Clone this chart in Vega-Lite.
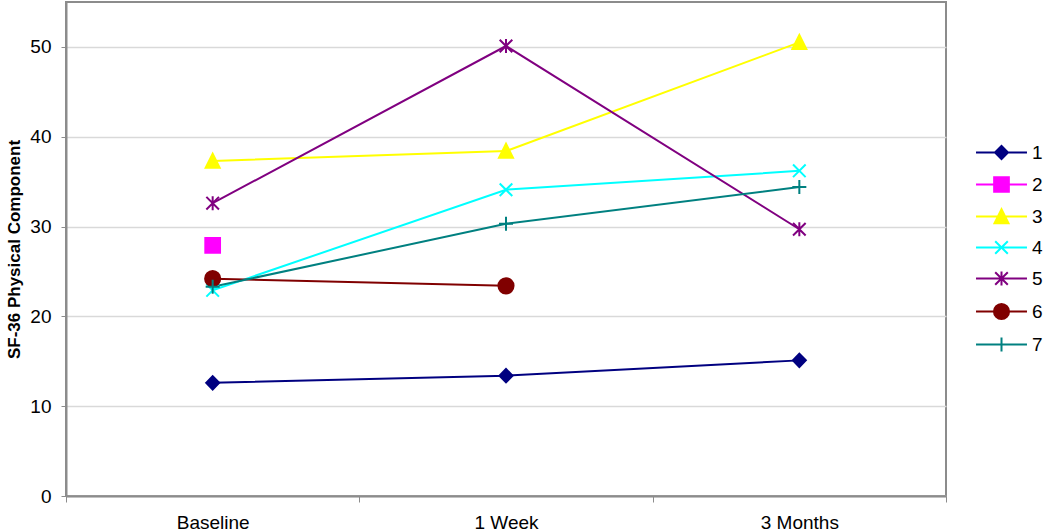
{
  "$schema": "https://vega.github.io/schema/vega-lite/v6.json",
  "autosize": "none",
  "width": 880,
  "height": 494,
  "padding": {"left": 66, "top": 2, "right": 104, "bottom": 35},
  "config": {
    "font": "Liberation Sans",
    "view": {"stroke": "#8c8c8c", "strokeWidth": 2},
    "axis": {"labelColor": "#000", "titleColor": "#000", "labelFont": "Liberation Sans", "titleFont": "Liberation Sans"},
    "legend": {"labelFont": "Liberation Sans"}
  },
  "data": {
    "values": [
      {"series": "1", "time": "Baseline", "value": 12.6},
      {"series": "1", "time": "1 Week", "value": 13.4},
      {"series": "1", "time": "3 Months", "value": 15.1},
      {"series": "2", "time": "Baseline", "value": 27.9},
      {"series": "3", "time": "Baseline", "value": 37.3},
      {"series": "3", "time": "1 Week", "value": 38.4},
      {"series": "3", "time": "3 Months", "value": 50.5},
      {"series": "4", "time": "Baseline", "value": 22.9},
      {"series": "4", "time": "1 Week", "value": 34.1},
      {"series": "4", "time": "3 Months", "value": 36.2},
      {"series": "5", "time": "Baseline", "value": 32.6},
      {"series": "5", "time": "1 Week", "value": 50.1},
      {"series": "5", "time": "3 Months", "value": 29.7},
      {"series": "6", "time": "Baseline", "value": 24.2},
      {"series": "6", "time": "1 Week", "value": 23.4},
      {"series": "7", "time": "Baseline", "value": 23.3},
      {"series": "7", "time": "1 Week", "value": 30.3},
      {"series": "7", "time": "3 Months", "value": 34.4}
    ]
  },
  "encoding": {
    "x": {
      "field": "time", "type": "nominal",
      "sort": ["Baseline", "1 Week", "3 Months"],
      "scale": {"type": "band", "paddingInner": 0, "paddingOuter": 0},
      "axis": {"title": null, "labelAngle": 0, "labelFontSize": 19, "labelPadding": 11, "tickSize": 6, "tickBand": "extent", "tickColor": "#8c8c8c", "domainColor": "#8c8c8c", "domainWidth": 2, "grid": false}
    },
    "y": {
      "field": "value", "type": "quantitative",
      "scale": {"domain": [0, 55], "nice": false},
      "axis": {"title": "SF-36 Physical Component", "titleFontSize": 17, "titleFontWeight": "bold", "titlePadding": 6, "values": [0, 10, 20, 30, 40, 50], "labelFontSize": 19, "labelPadding": 10, "tickSize": 5, "tickColor": "#8c8c8c", "domainColor": "#8c8c8c", "domainWidth": 2, "grid": true, "gridColor": "#d9d9d9", "gridWidth": 1.5}
    }
  },
  "layer": [
    {
      "mark": {"type": "line", "strokeWidth": 2},
      "encoding": {
        "color": {"field": "series", "type": "nominal", "scale": {"domain": ["1", "2", "3", "4", "5", "6", "7"], "range": ["#000080", "#FF00FF", "#FFFF00", "#00FFFF", "#800080", "#800000", "#008080"]}},
        "detail": {"field": "series"}
      }
    },
    {
      "mark": {
        "type": "point", "filled": true, "size": 196, "strokeWidth": 2, "opacity": 1,
        "shape": {"expr": "datum.series == '1' ? 'M-0.93,0L0,-0.95L0.93,0L0,0.95Z' : datum.series == '2' ? 'M-1.05,-1.05L1.05,-1.05L1.05,1.05L-1.05,1.05Z' : datum.series == '3' ? 'M0,-1.05L1,0.95L-1,0.95Z' : datum.series == '4' ? 'M-0.9,-0.9L0.9,0.9M-0.9,0.9L0.9,-0.9' : datum.series == '5' ? 'M-0.9,-0.9L0.9,0.9M-0.9,0.9L0.9,-0.9M0,-1L0,1' : datum.series == '6' ? 'M1.08,0A1.08,1.08,0,1,1,-1.08,0A1.08,1.08,0,1,1,1.08,0Z' : 'M-1,0L1,0M0,-1L0,1'"}
      },
      "encoding": {
        "color": {
          "field": "series", "type": "nominal",
          "scale": {"domain": ["1", "2", "3", "4", "5", "6", "7"], "range": ["#000080", "#FF00FF", "#FFFF00", "#00FFFF", "#800080", "#800000", "#008080"]},
          "legend": {
            "title": null, "orient": "none", "legendX": 926, "legendY": 141,
            "labelFontSize": 19, "labelOffset": 21, "rowPadding": 9, "symbolSize": 196, "padding": 0,
            "encoding": {
              "symbols": {
                "size": {"value": 196},
                "strokeWidth": {"value": 2},
                "opacity": {"value": 1},
                "stroke": {"value": {"expr": "scale('color', datum.value)"}},
                "shape": {"value": {"expr": "datum.value == '1' ? 'M-3.64,0L3.64,0M-0.93,0L0,-0.95L0.93,0L0,0.95Z' : datum.value == '2' ? 'M-3.64,0L3.64,0M-1.05,-1.05L1.05,-1.05L1.05,1.05L-1.05,1.05Z' : datum.value == '3' ? 'M-3.64,0L3.64,0M0,-1.05L1,0.95L-1,0.95Z' : datum.value == '4' ? 'M-3.64,0L3.64,0M-0.9,-0.9L0.9,0.9M-0.9,0.9L0.9,-0.9' : datum.value == '5' ? 'M-3.64,0L3.64,0M-0.9,-0.9L0.9,0.9M-0.9,0.9L0.9,-0.9M0,-1L0,1' : datum.value == '6' ? 'M-3.64,0L3.64,0M1.08,0A1.08,1.08,0,1,1,-1.08,0A1.08,1.08,0,1,1,1.08,0Z' : 'M-3.64,0L3.64,0M0,-1L0,1'"}}
              }
            }
          }
        },
        "stroke": {
          "field": "series", "type": "nominal",
          "scale": {"domain": ["1", "2", "3", "4", "5", "6", "7"], "range": ["#000080", "#FF00FF", "#FFFF00", "#00FFFF", "#800080", "#800000", "#008080"]},
          "legend": null
        }
      }
    }
  ]
}
